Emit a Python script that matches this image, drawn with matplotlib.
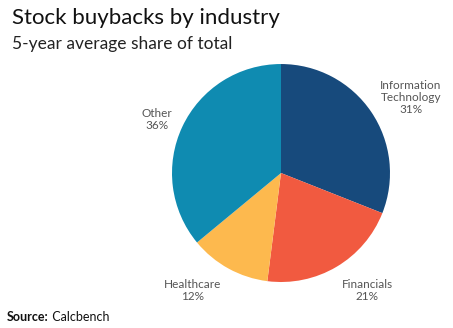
import matplotlib
matplotlib.use("Agg")
import matplotlib.pyplot as plt

plt.rcParams['font.family'] = ['Lato', 'DejaVu Sans']

# Share of buybacks by sector, 5-yr average
sectors = ['Information\nTechnology', 'Financials', 'Healthcare', 'Other']
shares = [31, 21, 12, 36]
colors = ['#174a7c', '#f15a40', '#fdb94e', '#0f8bb1']

fig = plt.figure(figsize=(4.53, 3.28), dpi=100)
fig.patch.set_facecolor('white')

ax = fig.add_axes([0.3797, 0.1402, 0.4812, 0.6646])
wedges, texts = ax.pie(shares, colors=colors, startangle=90, counterclock=False,
                       labels=['%s\n%d%%' % (s, v) for s, v in zip(sectors, shares)],
                       labeldistance=1.36,
                       wedgeprops=dict(linewidth=0))
ax.set_xlim(-1, 1)
ax.set_ylim(-1, 1)
ax.set_aspect('equal')

# nudge labels a bit
pos = [(1.19, 0.69), (0.79, -1.08), (-0.81, -1.08), (-1.14, 0.49)]
for t, p in zip(texts, pos):
    t.set_position(p)
    t.set_ha('center')
    t.set_va('center')
    t.set_fontsize(8.5)
    t.set_color('#555555')
    t.set_linespacing(1.1)
    t.set_clip_on(False)

fig.text(0.026, 0.975, 'Stock buybacks by industry', fontsize=16, va='top', color='#111111')
fig.text(0.026, 0.89, '5-year average share of total', fontsize=12.5, va='top', color='#222222')
src = fig.text(0.016, 0.015, 'Source:', fontsize=9, fontweight='bold', va='bottom', color='#111111')
ax.annotate(' Calcbench', xy=(1, 0), xycoords=src, va='bottom', ha='left',
            fontsize=9, color='#111111', annotation_clip=False)

fig.savefig('out.png', dpi=100)
